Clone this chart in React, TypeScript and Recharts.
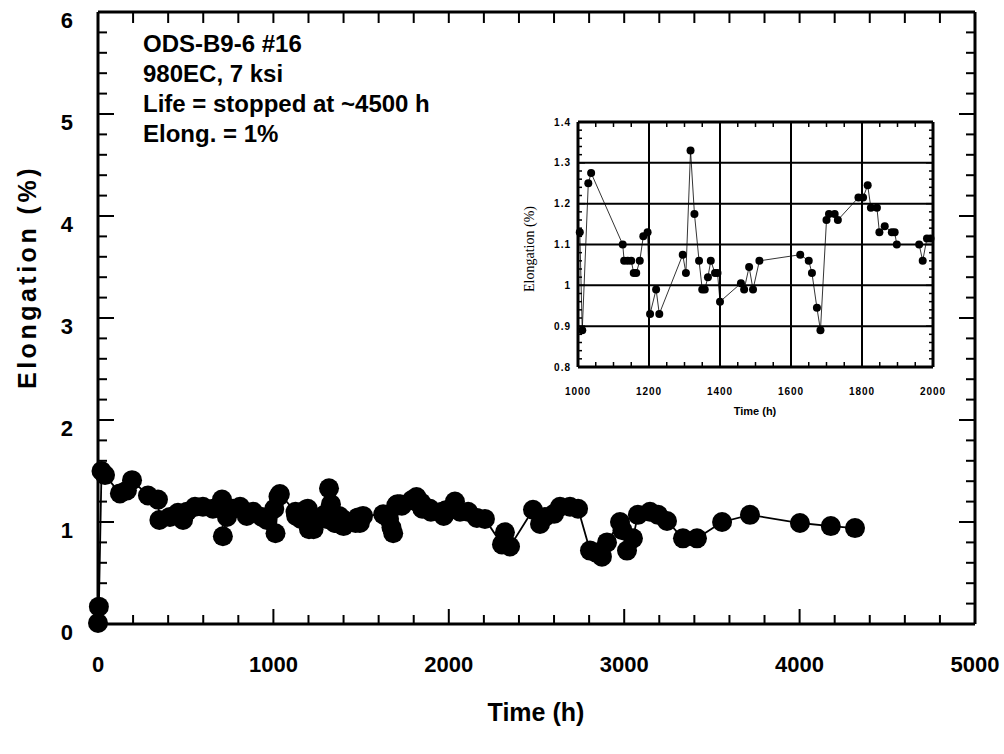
import React from 'react';
import { ComposedChart, Line, XAxis, YAxis, ReferenceLine } from 'recharts';

// ---------- data ----------
const earlyTime = [0, 5, 20, 40, 125, 165, 194, 285, 342, 350, 410, 456, 485, 507, 553, 598, 655, 707, 712, 735, 770, 810, 848, 884, 935, 963];
const earlyElong = [0.01, 0.17, 1.5, 1.46, 1.28, 1.31, 1.41, 1.26, 1.22, 1.02, 1.05, 1.09, 1.02, 1.1, 1.15, 1.15, 1.13, 1.22, 0.86, 1.05, 1.13, 1.15, 1.06, 1.1, 1.05, 1.02];

const insetTime = [1005, 1012, 1029, 1037, 1126, 1130, 1140, 1150, 1157, 1164, 1174, 1184, 1196, 1203, 1220, 1229, 1295, 1304, 1317, 1328, 1341, 1350, 1357, 1366, 1374, 1386, 1393, 1400, 1459, 1468, 1482, 1493, 1511, 1626, 1650, 1659, 1673, 1683, 1700, 1707, 1723, 1732, 1790, 1803, 1816, 1825, 1842, 1849, 1864, 1884, 1892, 1898, 1961, 1971, 1983, 1993];
const insetElong = [1.13, 0.89, 1.25, 1.275, 1.1, 1.06, 1.06, 1.06, 1.03, 1.03, 1.06, 1.12, 1.13, 0.93, 0.99, 0.93, 1.075, 1.03, 1.33, 1.175, 1.06, 0.99, 0.99, 1.02, 1.06, 1.03, 1.03, 0.96, 1.005, 0.99, 1.045, 0.99, 1.06, 1.075, 1.06, 1.03, 0.945, 0.89, 1.16, 1.175, 1.175, 1.16, 1.215, 1.215, 1.245, 1.19, 1.19, 1.13, 1.145, 1.13, 1.13, 1.1, 1.1, 1.06, 1.115, 1.115];

const lateTime = [2035, 2064, 2110, 2160, 2206, 2303, 2320, 2349, 2480, 2520, 2548, 2600, 2634, 2691, 2737, 2805, 2840, 2873, 2902, 2976, 2990, 3016, 3050, 3078, 3147, 3193, 3244, 3335, 3415, 3558, 3717, 4002, 4178, 4316];
const lateElong = [1.2, 1.1, 1.1, 1.04, 1.03, 0.78, 0.9, 0.76, 1.12, 0.98, 1.05, 1.08, 1.15, 1.15, 1.13, 0.72, 0.7, 0.66, 0.8, 1.0, 0.92, 0.72, 0.84, 1.07, 1.1, 1.07, 1.01, 0.84, 0.84, 1.0, 1.07, 0.99, 0.96, 0.94];

const mainXLabels = [0, 1000, 2000, 3000, 4000, 5000];
const mainYLabels = [0, 1, 2, 3, 4, 5, 6];
const insetXLabels = [1000, 1200, 1400, 1600, 1800, 2000];
const insetYLabels = [0.8, 0.9, 1.0, 1.1, 1.2, 1.3, 1.4];
const insetHGrid = [0.9, 1.0, 1.1, 1.2, 1.3];
const insetVGrid = [1200, 1400, 1600, 1800];

const annotation = ['ODS-B9-6 #16', '980EC, 7 ksi', 'Life = stopped at ~4500 h', 'Elong. = 1%'];

// tick positions (minor + major)
const steps = (a: number, b: number, s: number) => {
  const out: number[] = [];
  const n = Math.round((b - a) / s);
  for (let i = 0; i <= n; i++) out.push(Math.round((a + i * s) * 1000) / 1000);
  return out;
};
const mainXTicks = steps(0, 5000, 200);
const mainYTicks = steps(0, 6, 0.2);
const insetXTicks = steps(1000, 2000, 50);
const insetYTicks = steps(0.8, 1.4, 0.02);

const mainData = [...earlyTime, ...insetTime, ...lateTime].map((t, i) => ({
  t,
  e: [...earlyElong, ...insetElong, ...lateElong][i],
}));
const insetData = insetTime.map((t, i) => ({ t, e: insetElong[i] }));

// ---------- layout ----------
const W = 1004;
const H = 754;
const PL = 98;
const PR = 975;
const PT = 12;
const PB = 624;

const IX = 500;
const IY = 100;
const IW = 450;
const IH = 320;
const IPL = 78;
const IPR = 433;
const IPT = 22;
const IPB = 267;

const FONT = '"Liberation Sans", Arial, Helvetica, sans-serif';
const near = (arr: number[], v: number) => arr.some((a) => Math.abs(a - v) < 1e-6);

const MainXTick = (props: any) => {
  const { x, payload } = props;
  const v = payload.value;
  const major = near(mainXLabels, v);
  const len = major ? 15 : 9;
  return (
    <g>
      <line x1={x} x2={x} y1={PB} y2={PB - len} stroke="#000" strokeWidth={2} />
      <line x1={x} x2={x} y1={PT} y2={PT + 11} stroke="#000" strokeWidth={2} />
      {major && (
        <text x={x} y={PB + 40} textAnchor="middle" dominantBaseline="central" fontFamily={FONT} fontWeight="bold" fontSize={22} fill="#000">
          {v}
        </text>
      )}
    </g>
  );
};

const MainYTick = (props: any) => {
  const { y, payload } = props;
  const v = payload.value;
  const major = near(mainYLabels, v);
  const len = major ? 16 : 9;
  return (
    <g>
      <line x1={PL} x2={PL + len} y1={y} y2={y} stroke="#000" strokeWidth={2} />
      <line x1={PR} x2={PR - len} y1={y} y2={y} stroke="#000" strokeWidth={2} />
      {major && (
        <text x={73} y={y + 8} textAnchor="end" dominantBaseline="central" fontFamily={FONT} fontWeight="bold" fontSize={22} fill="#000">
          {v}
        </text>
      )}
    </g>
  );
};

const InsetXTick = (props: any) => {
  const { x, payload } = props;
  const v = payload.value;
  const major = near(insetXLabels, v);
  const len = major ? 7 : 5;
  return (
    <g>
      <line x1={x} x2={x} y1={IPB} y2={IPB - len} stroke="#000" strokeWidth={1.5} />
      <line x1={x} x2={x} y1={IPT} y2={IPT + len} stroke="#000" strokeWidth={1.5} />
      {major && (
        <text x={x} y={IPB + 24} textAnchor="middle" dominantBaseline="central" fontFamily={FONT} fontWeight="bold" fontSize={10} letterSpacing={1} fill="#000">
          {v}
        </text>
      )}
    </g>
  );
};

const InsetYTick = (props: any) => {
  const { y, payload } = props;
  const v = payload.value;
  const major = near(insetYLabels, v);
  const len = major ? 7 : 4;
  return (
    <g>
      <line x1={IPL} x2={IPL + len} y1={y} y2={y} stroke="#000" strokeWidth={1.5} />
      <line x1={IPR} x2={IPR - len} y1={y} y2={y} stroke="#000" strokeWidth={1.5} />
      {major && (
        <text x={IPL - 7} y={y} textAnchor="end" dominantBaseline="central" fontFamily={FONT} fontWeight="bold" fontSize={10} letterSpacing={1} fill="#000">
          {Math.abs(v - 1) < 1e-6 ? '1' : v.toFixed(1)}
        </text>
      )}
    </g>
  );
};

const BigDot = (props: any) => {
  const { cx, cy, index } = props;
  return <circle key={`d${index}`} cx={cx} cy={cy} r={10} fill="#000" />;
};
const SmallDot = (props: any) => {
  const { cx, cy, index } = props;
  return <circle key={`s${index}`} cx={cx} cy={cy} r={4} fill="#000" />;
};

export default function App() {
  return (
    <div style={{ position: 'absolute', left: 0, top: 0, width: W, height: H, background: '#fff', fontFamily: FONT }}>
      <div style={{ position: 'absolute', left: 0, top: 0 }}>
        <ComposedChart width={W} height={H} data={mainData} margin={{ top: PT, right: W - PR, bottom: 0, left: 0 }}>
          <XAxis
            type="number"
            dataKey="t"
            domain={[0, 5000]}
            ticks={mainXTicks}
            interval={0}
            height={H - PB}
            tickLine={false}
            tick={<MainXTick />}
            axisLine={{ stroke: '#000', strokeWidth: 3 }}
          />
          <YAxis
            type="number"
            domain={[0, 6]}
            ticks={mainYTicks}
            interval={0}
            width={PL}
            tickLine={false}
            tick={<MainYTick />}
            axisLine={{ stroke: '#000', strokeWidth: 3 }}
          />
          <ReferenceLine y={6} stroke="#000" strokeWidth={3} />
          <ReferenceLine x={5000} stroke="#000" strokeWidth={3} />
          <Line type="linear" dataKey="e" stroke="#000" strokeWidth={1.8} dot={<BigDot />} isAnimationActive={false} />
        </ComposedChart>
      </div>

      <div style={{ position: 'absolute', left: IX, top: IY }}>
        <ComposedChart width={IW} height={IH} data={insetData} margin={{ top: IPT, right: IW - IPR, bottom: 0, left: 0 }}>
          <XAxis
            type="number"
            dataKey="t"
            domain={[1000, 2000]}
            ticks={insetXTicks}
            interval={0}
            height={IH - IPB}
            tickLine={false}
            tick={<InsetXTick />}
            axisLine={{ stroke: '#000', strokeWidth: 3 }}
          />
          <YAxis
            type="number"
            domain={[0.8, 1.4]}
            ticks={insetYTicks}
            interval={0}
            width={IPL}
            tickLine={false}
            tick={<InsetYTick />}
            axisLine={{ stroke: '#000', strokeWidth: 3 }}
          />
          {insetHGrid.map((v) => (
            <ReferenceLine key={`h${v}`} y={v} stroke="#000" strokeWidth={2} />
          ))}
          {insetVGrid.map((v) => (
            <ReferenceLine key={`v${v}`} x={v} stroke="#000" strokeWidth={2} />
          ))}
          <ReferenceLine y={1.4} stroke="#000" strokeWidth={3} />
          <ReferenceLine x={2000} stroke="#000" strokeWidth={3} />
          <Line type="linear" dataKey="e" stroke="#000" strokeWidth={0.8} dot={<SmallDot />} isAnimationActive={false} />
        </ComposedChart>
      </div>

      {/* annotation */}
      <div style={{ position: 'absolute', left: 143, top: 29, fontSize: 24, fontWeight: 'bold', lineHeight: '30px', color: '#000', whiteSpace: 'nowrap' }}>
        {annotation.map((s) => (
          <div key={s}>{s}</div>
        ))}
      </div>

      {/* main axis titles */}
      <div style={{ position: 'absolute', left: 436, width: 200, top: 697, textAlign: 'center', fontSize: 25, fontWeight: 'bold', lineHeight: '30px' }}>
        Time (h)
      </div>
      <div
        style={{
          position: 'absolute',
          left: 27 - 150,
          top: 277 - 15,
          width: 300,
          height: 30,
          lineHeight: '30px',
          textAlign: 'center',
          fontSize: 25,
          fontWeight: 'bold',
          letterSpacing: 3.5,
          transform: 'rotate(-90deg)',
          whiteSpace: 'nowrap',
        }}
      >
        Elongation (%)
      </div>

      {/* inset axis titles */}
      <div style={{ position: 'absolute', left: 705, width: 100, top: 403, textAlign: 'center', fontSize: 11, fontWeight: 'bold', lineHeight: '16px' }}>
        Time (h)
      </div>
      <div
        style={{
          position: 'absolute',
          left: 530 - 60,
          top: 249 - 9,
          width: 120,
          height: 18,
          lineHeight: '18px',
          textAlign: 'center',
          fontSize: 14,
          fontFamily: '"Liberation Serif", "Times New Roman", serif',
          transform: 'rotate(-90deg)',
          whiteSpace: 'nowrap',
        }}
      >
        Elongation (%)
      </div>
    </div>
  );
}
